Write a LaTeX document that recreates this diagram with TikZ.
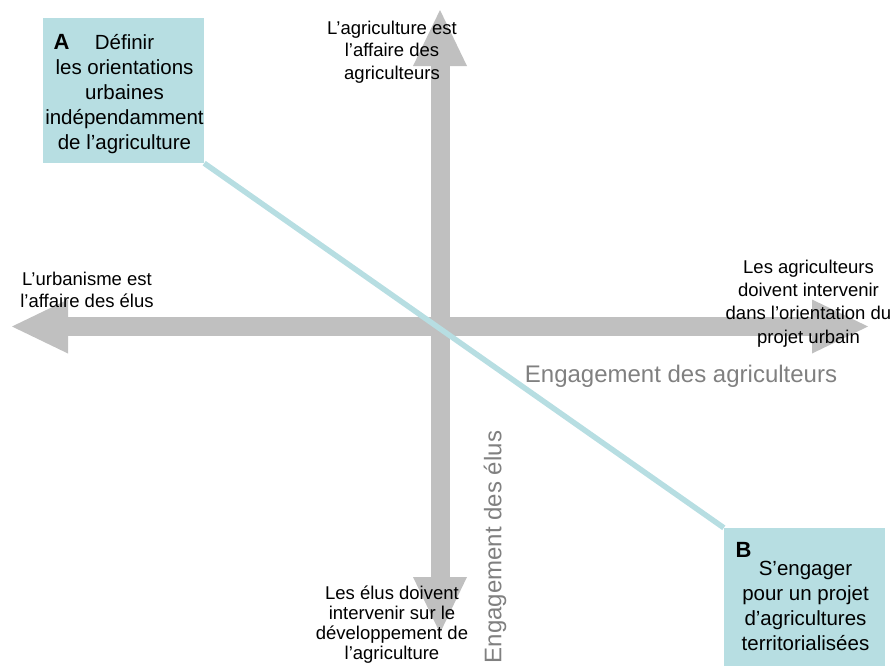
\documentclass[tikz,border=0pt]{standalone}
\usepackage{fontspec}
\setmainfont{Liberation Sans}
\usepackage{tikz}
\usetikzlibrary{arrows.meta,positioning}
\definecolor{axegris}{RGB}{192,192,192}
\definecolor{titregris}{RGB}{128,128,128}
\definecolor{bleuclair}{RGB}{183,222,226}
\tikzset{
  pointe/.tip={Triangle[length=56pt,width=54pt,line width=0pt]},
  axe/.style={draw=axegris,line width=19pt,pointe-pointe},
  lien/.style={draw=bleuclair,line width=5.5pt},
  boite/.style={fill=bleuclair,minimum width=161pt,inner sep=0pt},
  texteboite/.style={align=center,inner sep=0pt,font=\fontsize{20.5}{25}\selectfont},
  lettre/.style={inner sep=0pt,font=\fontsize{22}{26}\selectfont\bfseries},
  lbl/.style={align=center,inner sep=0pt,font=\fontsize{18.5}{22.5}\selectfont},
  titre/.style={text=titregris,inner sep=0pt,font=\fontsize{24}{28}\selectfont}
}
\begin{document}
\begin{tikzpicture}[x=1pt,y=-1pt]
  \useasboundingbox (0,0) rectangle (892,665);
  % axes
  \coordinate (ouest) at (12,326.5);
  \coordinate (est) at (868,326.5);
  \coordinate (nord) at (440,10);
  \coordinate (sud) at (440,633);
  \draw[axe] (ouest) -- (est);
  \draw[axe] (nord) -- (sud);
  % positions A et B
  \node[boite,minimum height=145pt] (boiteA) at (123.5,90.5) {};
  \node[boite,minimum height=155pt] (boiteB) at (804.5,605.5) {};
  \draw[lien] (boiteA.south east) -- (boiteB.north west);
  \node[texteboite] (texteA) at ([xshift=1pt,yshift=-4pt]boiteA.center)
    {D\'efinir\\les orientations\\urbaines\\ind\'ependamment\\de l’agriculture};
  \node[texteboite] (texteB) at ([xshift=1pt]boiteB.center)
    {S’engager\\pour un projet\\d’agricultures\\territorialis\'ees};
  \node[lettre] (lettreA) at (61.5,41.5) {A};
  \node[lettre] (lettreB) at (743.5,549.5) {B};
  % extremites des axes
  \node[lbl] (lblnord) at (392,52) {L’agriculture est\\l’affaire des\\agriculteurs};
  \node[lbl] (lblouest) at (87,290) {L’urbanisme est\\l’affaire des \'elus};
  \node[lbl,font=\fontsize{18.5}{23.2}\selectfont] (lblest) at (808.5,303.5)
    {Les agriculteurs\\doivent intervenir\\dans l’orientation du\\projet urbain};
  \node[lbl,font=\fontsize{18.5}{20}\selectfont] (lblsud) at (392,625)
    {Les \'elus doivent\\intervenir sur le\\d\'eveloppement de\\l’agriculture};
  \node[titre] (titreH) at (681,376) {Engagement des agriculteurs};
  \node[titre,rotate=90] (titreV) at (495,547) {Engagement des \'elus};
\end{tikzpicture}
\end{document}
